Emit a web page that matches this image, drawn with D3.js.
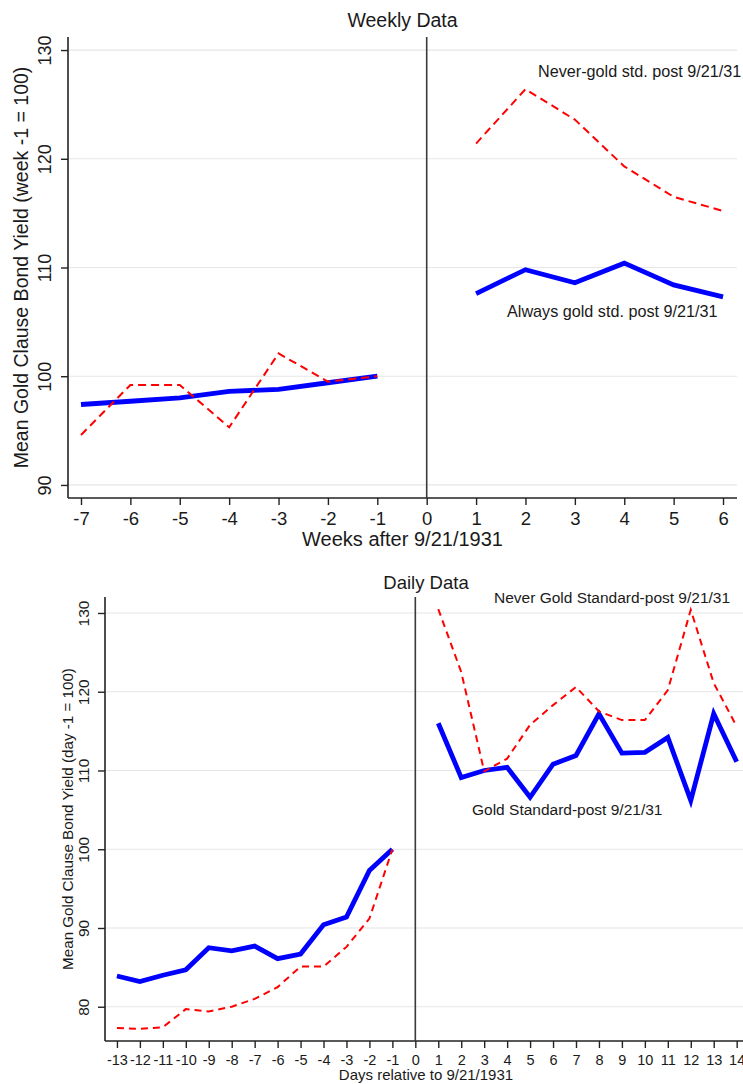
<!DOCTYPE html>
<html>
<head>
<meta charset="utf-8">
<script src="https://cdn.jsdelivr.net/npm/d3@7"></script>
<style>
  html, body { margin: 0; padding: 0; background: #fff; }
  svg { display: block; }
  text { font-family: "Liberation Sans", Arial, sans-serif; fill: #1a1a1a; }
</style>
</head>
<body>
<svg id="chart" width="743" height="1084"></svg>
<script>
// ---------- Weekly data ----------
const weeksPre = [-7, -6, -5, -4, -3, -2, -1];
const weeksPost = [1, 2, 3, 4, 5, 6];
const weeklyAlwaysPre = [97.4, 97.7, 98.0, 98.6, 98.8, 99.4, 100];
const weeklyAlwaysPost = [107.6, 109.8, 108.6, 110.4, 108.4, 107.3];
const weeklyNeverPre = [94.6, 99.2, 99.2, 95.3, 102.1, 99.5, 100];
const weeklyNeverPost = [121.4, 126.4, 123.6, 119.3, 116.5, 115.2];
const weeklyXTicks = [-7, -6, -5, -4, -3, -2, -1, 0, 1, 2, 3, 4, 5, 6];
const weeklyYTicks = [90, 100, 110, 120, 130];

// ---------- Daily data ----------
const daysPre = [-13, -12, -11, -10, -9, -8, -7, -6, -5, -4, -3, -2, -1];
const daysPost = [1, 2, 3, 4, 5, 6, 7, 8, 9, 10, 11, 12, 13, 14];
const dailyGoldPre = [83.9, 83.2, 84.0, 84.7, 87.5, 87.1, 87.7, 86.1, 86.7, 90.4, 91.4, 97.3, 100];
const dailyGoldPost = [116.0, 109.1, 110.0, 110.4, 106.6, 110.8, 111.9, 117.2, 112.2, 112.3, 114.2, 106.2, 117.2, 111.1];
const dailyNeverPre = [77.3, 77.2, 77.4, 79.7, 79.4, 80.0, 81.0, 82.5, 85.1, 85.1, 87.6, 91.2, 100];
const dailyNeverPost = [130.5, 122.5, 109.9, 111.5, 115.8, 118.3, 120.6, 117.5, 116.4, 116.4, 120.2, 130.4, 121.1, 115.6];
const dailyXTicks = d3.range(-13, 15);
const dailyYTicks = [80, 90, 100, 110, 120, 130];

const svg = d3.select("#chart");
const BLUE = "#0000ff", RED = "#ff0000";
const fmt = d => String(d);  // plain hyphen-minus as in the reference

function panel(cfg) {
  const g = svg.append("g");
  const x = d3.scaleLinear().domain(cfg.xDomain).range([cfg.left, cfg.right]);
  const y = d3.scaleLinear().domain(cfg.yDomain).range([cfg.bottom, cfg.top]);

  // gridlines
  g.append("g").selectAll("line").data(cfg.yTicks).join("line")
    .attr("x1", cfg.left).attr("x2", cfg.right)
    .attr("y1", d => y(d)).attr("y2", d => y(d))
    .attr("stroke", "#e6e6e6").attr("stroke-width", 1.2);

  // y axis
  const yAxis = g.append("g").attr("transform", `translate(${cfg.left},0)`)
    .call(d3.axisLeft(y).tickValues(cfg.yTicks).tickSize(cfg.tickLen).tickSizeOuter(0).tickFormat(fmt));
  yAxis.select(".domain").attr("stroke", "#222").attr("stroke-width", 1.6)
    .attr("d", `M0,${cfg.top}V${cfg.bottom}`);
  yAxis.selectAll(".tick line").attr("stroke", "#222").attr("stroke-width", 1.4);
  yAxis.selectAll(".tick text")
    .attr("x", null).attr("dy", null)
    .attr("text-anchor", "middle")
    .attr("transform", `translate(${cfg.yLabX - cfg.left},0) rotate(-90)`)
    .style("font-size", cfg.yTickFont + "px")
    .style("font-family", '"Liberation Sans", Arial, sans-serif')
    .attr("fill", "#1a1a1a");

  // x axis
  const xAxis = g.append("g").attr("transform", `translate(0,${cfg.bottom})`)
    .call(d3.axisBottom(x).tickValues(cfg.xTicks).tickSize(cfg.tickLen).tickSizeOuter(0).tickFormat(fmt));
  xAxis.select(".domain").attr("stroke", "#222").attr("stroke-width", 1.6)
    .attr("d", `M${cfg.left},0H${cfg.right}`);
  xAxis.selectAll(".tick line").attr("stroke", "#222").attr("stroke-width", 1.4);
  xAxis.selectAll(".tick text")
    .attr("y", cfg.xLabBase - cfg.bottom).attr("dy", null)
    .style("font-size", cfg.xTickFont + "px")
    .style("font-family", '"Liberation Sans", Arial, sans-serif')
    .attr("fill", "#1a1a1a");

  // vertical line at 0
  g.append("line").attr("x1", x(0)).attr("x2", x(0)).attr("y1", cfg.top).attr("y2", cfg.bottom)
    .attr("stroke", "#3a3a3a").attr("stroke-width", 1.6);

  const line = d3.line().x(d => x(d[0])).y(d => y(d[1]));
  const series = [
    { xs: cfg.preX, ys: cfg.solidPre, color: BLUE, w: cfg.solidW, dash: null },
    { xs: cfg.postX, ys: cfg.solidPost, color: BLUE, w: cfg.solidW, dash: null },
    { xs: cfg.preX, ys: cfg.dashPre, color: RED, w: cfg.dashW, dash: cfg.dash },
    { xs: cfg.postX, ys: cfg.dashPost, color: RED, w: cfg.dashW, dash: cfg.dash }
  ];
  series.forEach(s => {
    g.append("path").datum(s.xs.map((v, i) => [v, s.ys[i]]))
      .attr("d", line).attr("fill", "none")
      .attr("stroke", s.color).attr("stroke-width", s.w)
      .attr("stroke-linejoin", "miter").attr("stroke-linecap", "butt")
      .attr("stroke-dasharray", s.dash);
  });

  // titles
  const cx = (cfg.left + cfg.right) / 2;
  g.append("text").attr("x", cx).attr("y", cfg.titleBase).attr("text-anchor", "middle")
    .style("font-size", cfg.titleFont + "px").text(cfg.title);
  g.append("text").attr("x", cx).attr("y", cfg.xTitleBase).attr("text-anchor", "middle")
    .style("font-size", cfg.xTitleFont + "px").text(cfg.xTitle);
  g.append("text").attr("text-anchor", "middle")
    .attr("transform", `translate(${cfg.yTitleX},${(cfg.top + cfg.bottom) / 2}) rotate(-90)`)
    .style("font-size", cfg.yTitleFont + "px").text(cfg.yTitle);

  cfg.notes.forEach(n => {
    g.append("text").attr("x", n.x).attr("y", n.y)
      .style("font-size", n.size + "px").text(n.text);
  });
}

panel({
  left: 68, right: 737, top: 37, bottom: 498,
  xDomain: [-7.263, 6.283], yDomain: [88.8, 131.2],
  xTicks: weeklyXTicks, yTicks: weeklyYTicks, tickLen: 7,
  yLabX: 51, yTickFont: 18, xLabBase: 525, xTickFont: 18.5,
  preX: weeksPre, postX: weeksPost,
  solidPre: weeklyAlwaysPre, solidPost: weeklyAlwaysPost,
  dashPre: weeklyNeverPre, dashPost: weeklyNeverPost,
  solidW: 4.8, dashW: 2, dash: "8,5",
  title: "Weekly Data", titleBase: 27, titleFont: 19.5,
  xTitle: "Weeks after 9/21/1931", xTitleBase: 546, xTitleFont: 20,
  yTitle: "Mean Gold Clause Bond Yield (week -1 = 100)", yTitleX: 28, yTitleFont: 19.5,
  notes: [
    { text: "Never-gold std. post 9/21/31", x: 538, y: 77, size: 16.2 },
    { text: "Always gold std. post 9/21/31", x: 507, y: 317, size: 16.2 }
  ]
});

panel({
  left: 105, right: 747, top: 597, bottom: 1041,
  xDomain: [-13.52, 14.45], yDomain: [75.65, 132.03],
  xTicks: dailyXTicks, yTicks: dailyYTicks, tickLen: 7,
  yLabX: 89, yTickFont: 15.5, xLabBase: 1065, xTickFont: 14.5,
  preX: daysPre, postX: daysPost,
  solidPre: dailyGoldPre, solidPost: dailyGoldPost,
  dashPre: dailyNeverPre, dashPost: dailyNeverPost,
  solidW: 4.8, dashW: 2, dash: "7,5",
  title: "Daily Data", titleBase: 589, titleFont: 18.5,
  xTitle: "Days relative to 9/21/1931", xTitleBase: 1080, xTitleFont: 15,
  yTitle: "Mean Gold Clause Bond Yield (day -1 = 100)", yTitleX: 73, yTitleFont: 15.2,
  notes: [
    { text: "Never Gold Standard-post 9/21/31", x: 494, y: 603, size: 15.5 },
    { text: "Gold Standard-post 9/21/31", x: 472, y: 815, size: 15.5 }
  ]
});
</script>
</body>
</html>
